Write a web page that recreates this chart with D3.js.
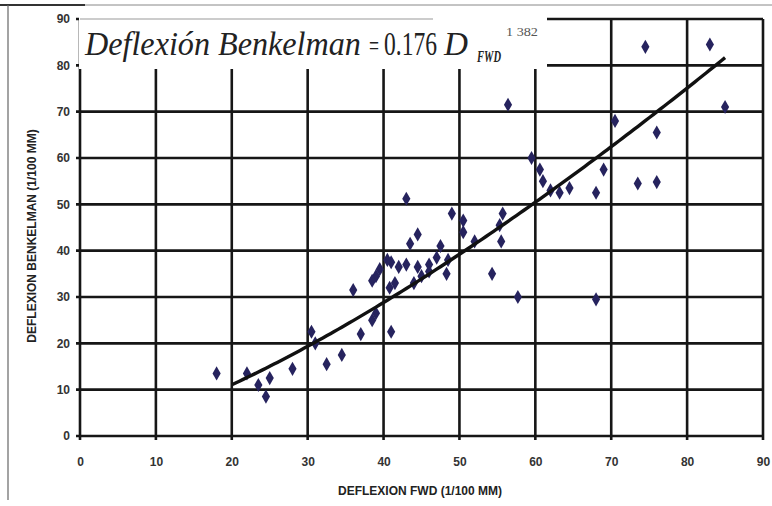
<!DOCTYPE html>
<html><head><meta charset="utf-8">
<script src="https://cdn.jsdelivr.net/npm/d3@7"></script>
<style>body{margin:0;background:#fff}svg{display:block}</style>
</head><body><svg id="c" width="772" height="506"></svg>
<script>
const xTicks=[0,10,20,30,40,50,60,70,80,90];
const yTicks=[0,10,20,30,40,50,60,70,80,90];
const fwd=[18,22,23.5,25,24.5,28,30.5,31,32.5,34.5,37,38.5,39,36,41,43,49,50.5,50.5,44.5,43.5,47.5,41,43,44.5,46,47,48.5,48.3,39,41.5,44,45,40.8,38.5,46,42,40.5,39.5,55.7,55.3,55.5,52,54.3,57.7,68,56.4,74.5,83,85,76,70.5,69,60.6,61,62,63.2,64.5,68,73.5,76,59.5];
const benkelman=[13.5,13.5,11,12.5,8.5,14.5,22.5,20,15.5,17.5,22,25,26.5,31.5,22.5,51.2,48,46.5,44,43.5,41.5,41,37.5,37,36.5,37,38.5,38,35,34.5,33,33,34.5,32,33.5,35.5,36.5,38,36,48,45.5,42,42,35,30,29.5,71.5,84,84.5,71,65.5,68,57.5,57.5,55,53,52.5,53.5,52.5,54.5,54.8,60];
const coefA=0.176, expB=1.382;
const trendRange=[20,85];
const xTitle="DEFLEXION FWD (1/100 MM)";
const yTitle="DEFLEXION BENKELMAN (1/100 MM)";

const svg=d3.select("#c");
const x=d3.scaleLinear().domain([0,90]).range([80,763]);
const y=d3.scaleLinear().domain([0,90]).range([436,19]);
const ink="#161616";

// outer frame
svg.append("line").attr("x1",0).attr("x2",772).attr("y1",5).attr("y2",5).attr("stroke","#888").attr("stroke-width",1);
svg.append("line").attr("x1",0).attr("x2",85).attr("y1",5).attr("y2",5).attr("stroke","#333").attr("stroke-width",2);
svg.append("line").attr("x1",8).attr("x2",8).attr("y1",5).attr("y2",500).attr("stroke","#666").attr("stroke-width",1.2);

// grid
const g=svg.append("g");
g.selectAll(".vx").data(xTicks).join("line").attr("x1",d=>x(d)).attr("x2",d=>x(d))
 .attr("y1",y(90)).attr("y2",y(0)+4).attr("stroke",ink).attr("stroke-width",2.6);
g.selectAll(".hy").data(yTicks).join("line").attr("y1",d=>y(d)).attr("y2",d=>y(d))
 .attr("x1",x(0)-4).attr("x2",x(90)).attr("stroke",ink).attr("stroke-width",2.6);

// equation box covering grid
svg.append("rect").attr("x",x(0)-1).attr("y",y(90)-2).attr("width",468).attr("height",52).attr("fill","#fff");
svg.append("line").attr("x1",x(0)).attr("x2",433).attr("y1",y(90)).attr("y2",y(90)).attr("stroke","#bbb").attr("stroke-width",1.5);

// axes labels
const xa=svg.append("g").attr("transform",`translate(0,${y(0)})`).call(d3.axisBottom(x).tickValues(xTicks).tickSize(0).tickPadding(21));
xa.select(".domain").remove();
xa.selectAll("text").attr("font-family","Liberation Sans, Arial").attr("font-weight","bold").attr("font-size",12).attr("fill","#333");
const ya=svg.append("g").attr("transform",`translate(${x(0)},0)`).call(d3.axisLeft(y).tickValues(yTicks).tickSize(0).tickPadding(10));
ya.select(".domain").remove();
ya.selectAll("text").attr("font-family","Liberation Sans, Arial").attr("font-weight","bold").attr("font-size",12).attr("fill","#333");

svg.append("text").attr("x",420).attr("y",495).attr("text-anchor","middle")
 .attr("font-family","Liberation Sans, Arial").attr("font-weight","bold").attr("font-size",12).attr("fill","#222").text(xTitle);
svg.append("text").attr("transform","translate(36,236) rotate(-90)").attr("text-anchor","middle")
 .attr("font-family","Liberation Sans, Arial").attr("font-weight","bold").attr("font-size",12).attr("fill","#222").text(yTitle);

// points
const pts=fwd.map((d,i)=>[d,benkelman[i]]);
svg.selectAll(".pt").data(pts).join("path")
 .attr("d",d3.symbol().type(d3.symbolDiamond).size(58))
 .attr("transform",d=>`translate(${x(d[0])},${y(d[1])})`)
 .attr("fill","#26235e");

// trend line from displayed equation
const tx=d3.range(trendRange[0],trendRange[1]+0.01,0.5);
svg.append("path").datum(tx).attr("fill","none").attr("stroke","#111").attr("stroke-width",3.4)
 .attr("d",d3.line().x(d=>x(d)).y(d=>y(coefA*Math.pow(d,expB))));

// equation: each piece scaled horizontally to its width
const ff="Liberation Serif, Times New Roman, serif";
const T=(t,xx,yy,fs,w,o)=>{const e=svg.append("text").attr("x",0).attr("y",0).attr("font-family",ff).attr("font-size",fs).attr("fill",o.fill||"#222").text(t);
 if(o.it)e.attr("font-style","italic"); if(o.b)e.attr("font-weight","bold");
 const nat=e.node().getComputedTextLength(); const sx=w/nat;
 e.attr("transform",`translate(${xx},${yy}) scale(${sx},1)`); return e;};
T("Deflexión Benkelman",85,55,33,276,{it:1});
T("=",369,55,28,10,{});
T("0.176",384,55,33,53,{});
T("D",444,55,33,24,{it:1});
T("FWD",477,62,16,24,{it:1,b:1});
T("1 382",506,36,13,32,{fill:"#555"});
</script></body></html>
